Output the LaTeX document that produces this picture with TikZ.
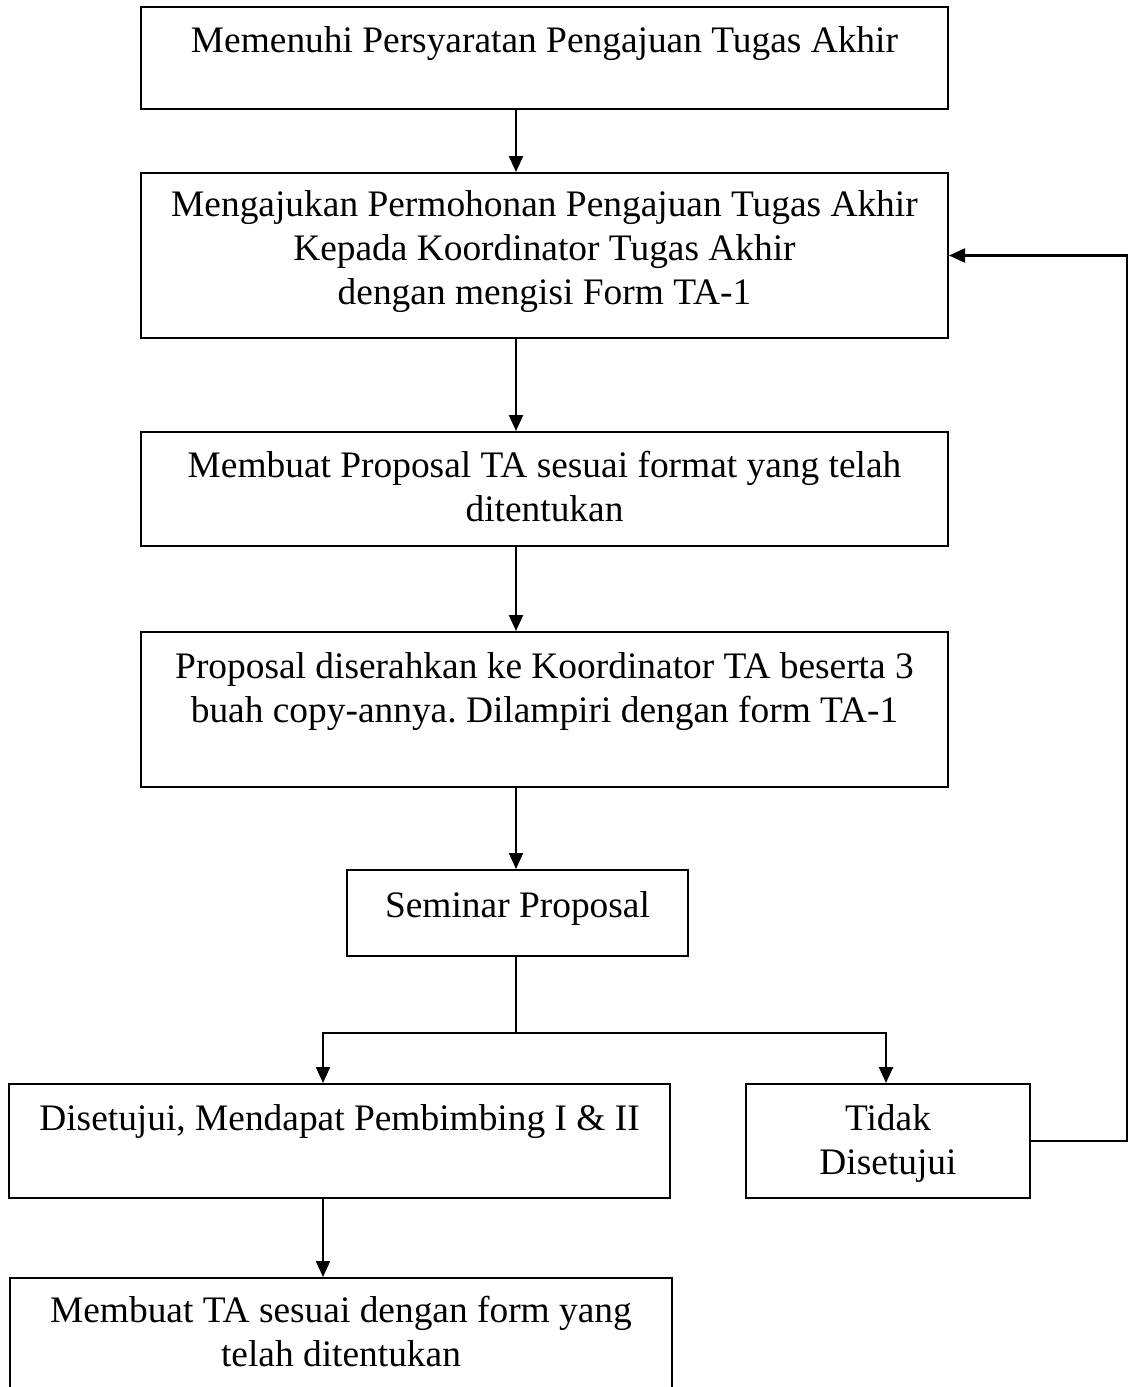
\documentclass[tikz,border=0pt]{standalone}
\usepackage{fontspec}
\setmainfont{Liberation Serif}
\usetikzlibrary{fit,arrows.meta}

\tikzset{
  kotak/.style={draw, line width=1pt, inner sep=0pt},
  teks/.style={align=center, anchor=base, font=\fontsize{18.7}{22}\selectfont\frenchspacing},
  panah/.style={line width=1.1pt, -{Triangle[length=8pt,width=7pt]}},
  garis/.style={line width=1.1pt}
}

\begin{document}
\begin{tikzpicture}[x=0.5pt, y=-0.5pt]
    \useasboundingbox (0,0) rectangle (1131,1387);
    \clip (0,0) rectangle (1131,1387);

    % Boxes
    \node[kotak, fit={(141,7) (948,109)}] (syarat) {};
    \node[kotak, fit={(141,173) (948,338)}] (ajukan) {};
    \node[kotak, fit={(141,432) (948,546)}] (proposal) {};
    \node[kotak, fit={(141,632) (948,787)}] (serah) {};
    \node[kotak, fit={(347,870) (688,956)}] (seminar) {};
    \node[kotak, fit={(9,1084) (670,1198)}] (setuju) {};
    \node[kotak, fit={(746,1084) (1030,1198)}] (tolak) {};
    \node[kotak, fit={(10,1278) (672,1410)}] (buatta) {};

    % Texts (base = last line)
    \node[teks] (tsyarat) at (544.5,52) {Memenuhi Persyaratan Pengajuan Tugas Akhir};
    \node[teks] (tajukan) at (544.5,304) {Mengajukan Permohonan Pengajuan Tugas Akhir\\ Kepada Koordinator Tugas Akhir\\ dengan mengisi Form TA-1};
    \node[teks] (tproposal) at (544.5,521) {Membuat Proposal TA sesuai format yang telah\\ ditentukan};
    \node[teks] (tserah) at (544.5,722) {Proposal diserahkan ke Koordinator TA beserta 3\\ buah copy-annya. Dilampiri dengan form TA-1};
    \node[teks] (tseminar) at (517.5,917) {Seminar Proposal};
    \node[teks] (tsetuju) at (339.5,1130) {Disetujui, Mendapat Pembimbing I \& II};
    \node[teks] (ttolak) at (888,1174) {Tidak\\ Disetujui};
    \node[teks] (tbuatta) at (341,1366) {Membuat TA sesuai dengan form yang\\ telah ditentukan};

    % Helper coordinates
    \coordinate (spine) at (516,0);
    \coordinate (kiri) at (323,0);
    \coordinate (kanan) at (886,0);
    \coordinate (cabang) at (516,1033);
    \coordinate (balik) at (1127,0);

    % Main flow
    \draw[panah] (syarat.south -| spine) -- (ajukan.north -| spine);
    \draw[panah] (ajukan.south -| spine) -- (proposal.north -| spine);
    \draw[panah] (proposal.south -| spine) -- (serah.north -| spine);
    \draw[panah] (serah.south -| spine) -- (seminar.north -| spine);

    % Branch
    \draw[garis] (seminar.south -| spine) -- (cabang);
    \draw[panah] (cabang) -| (setuju.north -| kiri);
    \draw[panah] (cabang) -| (tolak.north -| kanan);
    \draw[panah] (setuju.south -| kiri) -- (buatta.north -| kiri);

    % Back to submission
    \draw[panah] (tolak.east) -- (tolak.east -| balik) |- (ajukan.east);
\end{tikzpicture}
\end{document}
